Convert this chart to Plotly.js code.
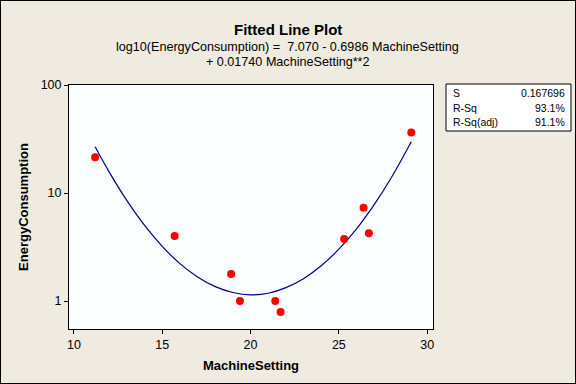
<!DOCTYPE html>
<html>
<head>
<meta charset="utf-8">
<script src="https://cdn.plot.ly/plotly-3.0.1.min.js"></script>
<style>
html,body{margin:0;padding:0;background:#EFEBE1;}
#wrap{position:relative;width:576px;height:384px;}
#chart{position:absolute;left:0;top:0;width:576px;height:384px;}
#frame{position:absolute;left:0;top:0;width:576px;height:384px;box-sizing:border-box;border:1px solid #000;pointer-events:none;}
</style>
</head>
<body>
<div id="wrap"><div id="chart"></div><div id="frame"></div></div>
<script>
// Observed data
const machineSetting = [11.2, 15.7, 18.9, 19.4, 21.4, 21.7, 25.3, 26.4, 26.7, 29.1];
const energyConsumption = [21.4, 4.0, 1.78, 1.0, 1.0, 0.79, 3.75, 7.3, 4.25, 36.3];

// Fitted line values
const fitX = [11.2, 12, 13, 14, 15, 16, 17, 18, 19, 20, 21, 22, 23, 24, 25, 26, 27, 28, 29, 29.1];
const fitY = [26.8, 15.6, 8.49, 5.01, 3.21, 2.22, 1.67, 1.36, 1.20, 1.14, 1.18, 1.33, 1.61, 2.12, 3.02, 4.66, 7.81, 14.15, 27.8, 29.9];

// Summary statistics
const statLabels = ["S", "R-Sq", "R-Sq(adj)"];
const statValues = ["0.167696", "93.1%", "91.1%"];

const titleLines = ["Fitted Line Plot",
  "log10(EnergyConsumption) =  7.070 - 0.6986 MachineSetting",
  "+ 0.01740 MachineSetting**2"];

const xTicks = [10, 15, 20, 25, 30];
const yTicks = [1, 10, 100];

const FONT = "Liberation Sans, Arial, sans-serif";

const traces = [
  {x: fitX, y: fitY, mode: "lines", type: "scatter",
   line: {color: "#000080", width: 1.2, shape: "spline"}, hoverinfo: "skip"},
  {x: machineSetting, y: energyConsumption, mode: "markers", type: "scatter",
   marker: {color: "#FF0000", size: 8}}
];

const L = 69, R = 143, T = 85, B = 55;
const plotW = 576 - L - R, plotH = 384 - T - B;
function px2paperX(px){ return (px - L) / plotW; }
function py2paperY(py){ return (384 - B - py) / plotH; }

const annotations = [
  {text: "<b>" + titleLines[0] + "</b>", xref: "paper", yref: "paper", x: px2paperX(288), y: py2paperY(30),
   xanchor: "center", yanchor: "middle", showarrow: false, font: {family: FONT, size: 15, color: "#000"}},
  {text: titleLines[1], xref: "paper", yref: "paper", x: px2paperX(287), y: py2paperY(47),
   xanchor: "center", yanchor: "middle", showarrow: false, font: {family: FONT, size: 12.6, color: "#000"}},
  {text: titleLines[2], xref: "paper", yref: "paper", x: px2paperX(288), y: py2paperY(62),
   xanchor: "center", yanchor: "middle", showarrow: false, font: {family: FONT, size: 12.6, color: "#000"}}
];
const rowsPx = [93, 107.5, 122];
statLabels.forEach((s, i) => {
  annotations.push({text: s, xref: "paper", yref: "paper", x: px2paperX(451), y: py2paperY(rowsPx[i]),
    xanchor: "left", yanchor: "middle", showarrow: false, font: {family: FONT, size: 10.5, color: "#000"}});
  annotations.push({text: statValues[i], xref: "paper", yref: "paper", x: px2paperX(567), y: py2paperY(rowsPx[i]),
    xanchor: "right", yanchor: "middle", showarrow: false, font: {family: FONT, size: 10.5, color: "#000"}});
});

const layout = {
  width: 576, height: 384,
  paper_bgcolor: "#EFEBE1", plot_bgcolor: "#FAFEFE",
  margin: {l: L, r: R, t: T, b: B},
  showlegend: false,
  font: {family: FONT, color: "#000"},
  xaxis: {range: [9.72, 30.33], tickvals: xTicks, ticktext: xTicks.map(String),
    ticks: "outside", ticklen: 4, tickcolor: "#000", showgrid: false, zeroline: false,
    showline: true, linecolor: "#000", linewidth: 1, mirror: true,
    tickfont: {family: FONT, size: 12.5},
    title: {text: "<b>MachineSetting</b>", font: {family: FONT, size: 13}, standoff: 9}},
  yaxis: {type: "log", range: [-0.259, 2.0], tickvals: yTicks, ticktext: yTicks.map(String),
    ticks: "outside", ticklen: 4, tickcolor: "#000", showgrid: false, zeroline: false,
    showline: true, linecolor: "#000", linewidth: 1, mirror: true,
    tickfont: {family: FONT, size: 12.5},
    title: {text: "<b>EnergyConsumption</b>", font: {family: FONT, size: 13}, standoff: 9}},
  annotations: annotations,
  shapes: [
    {type: "rect", xref: "paper", yref: "paper",
     x0: px2paperX(446), x1: px2paperX(571), y0: py2paperY(131), y1: py2paperY(84),
     line: {color: "#000", width: 1}, fillcolor: "#FFFFFF"}
  ]
};

Plotly.newPlot("chart", traces, layout, {displayModeBar: false, staticPlot: true});
</script>
</body>
</html>
